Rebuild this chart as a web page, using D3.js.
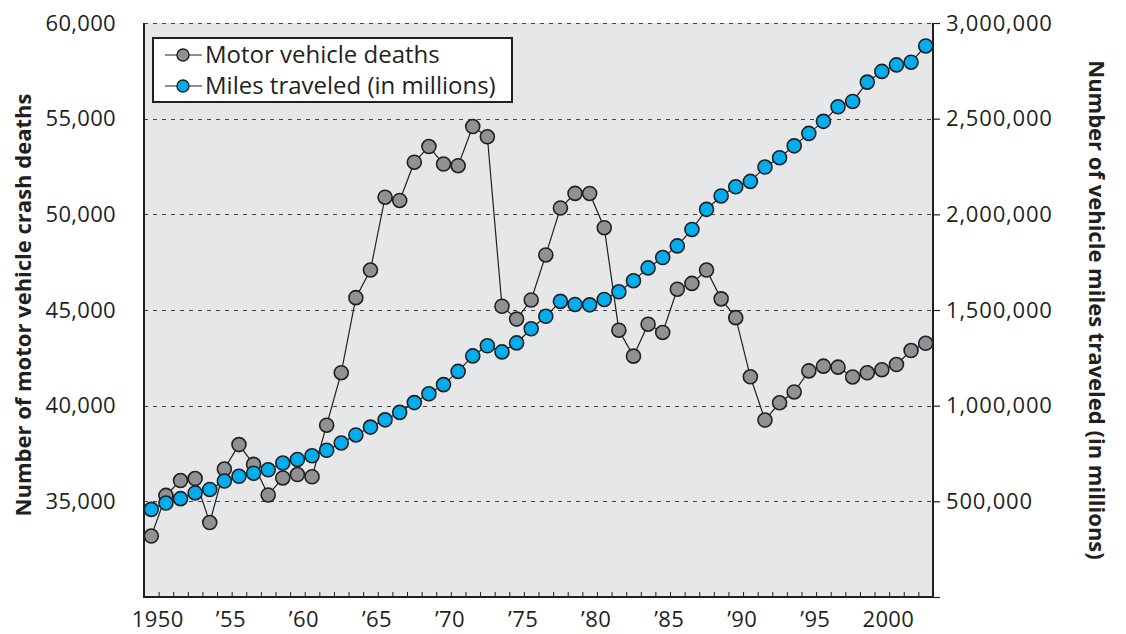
<!DOCTYPE html>
<meta charset="utf-8">
<style>
  body { margin: 0; background: #fff; }
  svg text { font-family: "Open Sans", "Noto Sans", sans-serif; fill: #231f20; }
</style>
<body>
<div id="chart"></div>
<script src="https://d3js.org/d3.v7.min.js"></script>
<script>
  // years 1950..2003
  var years = d3.range(1950, 2004);
  var deaths = [33186, 35309, 36088, 36190, 33890, 36688, 37965, 36932, 35331, 36223,
                36399, 36285, 38980, 41723, 45645, 47089, 50894, 50724, 52725, 53543,
                52627, 52542, 54589, 54052, 45196, 44525, 45523, 47878, 50331, 51093,
                51091, 49301, 43945, 42589, 44257, 43825, 46087, 46390, 47087, 45582,
                44599, 41508, 39250, 40150, 40716, 41817, 42065, 42013, 41501, 41717,
                41880, 42150, 42880, 43260];
  var miles = [458000, 491000, 514000, 544000, 562000, 606000, 631000, 647000, 665000, 700000,
               719000, 738000, 767000, 805000, 847000, 888000, 926000, 965000, 1016000, 1062000,
               1110000, 1179000, 1260000, 1313000, 1281000, 1328000, 1402000, 1467000, 1545000, 1529000,
               1527000, 1555000, 1595000, 1653000, 1720000, 1774000, 1835000, 1921000, 2026000, 2096000,
               2144000, 2172000, 2247000, 2296000, 2358000, 2423000, 2486000, 2562000, 2590000, 2691000,
               2747000, 2781000, 2795000, 2880000];
  var leftTicks = [35000, 40000, 45000, 50000, 55000, 60000];
  var rightTicks = [0, 500000, 1000000, 1500000, 2000000, 2500000, 3000000];
  var yearLabels = [1950, 1955, 1960, 1965, 1970, 1975, 1980, 1985, 1990, 1995, 2000];
  var seriesNames = ["Motor vehicle deaths", "Miles traveled (in millions)"];

  var W = 1126, H = 634;
  var plotL = 144, plotR = 933, plotT = 23, plotB = 597;
  var ink = "#231f20";
  var grayFill = "#8f9194", blueFill = "#00aeef";

  var svg = d3.select("#chart").append("svg")
    .attr("width", W).attr("height", H);

  var x = d3.scaleLinear().domain([1949.5, 2003.5]).range([plotL, plotR]);
  var yL = d3.scaleLinear().domain([30000, 60000]).range([plotB, plotT]);
  var yR = d3.scaleLinear().domain([0, 3000000]).range([plotB, plotT]);

  // plot background
  svg.append("rect")
    .attr("x", plotL).attr("y", plotT)
    .attr("width", plotR - plotL).attr("height", plotB - plotT)
    .attr("fill", "#e6e7e8");

  // dashed grid
  svg.append("g").selectAll("line")
    .data(leftTicks).enter().append("line")
    .attr("x1", plotL).attr("x2", plotR)
    .attr("y1", d => Math.round(yL(d)) + 0.5).attr("y2", d => Math.round(yL(d)) + 0.5)
    .attr("stroke", "#444").attr("stroke-width", 1.2)
    .attr("stroke-dasharray", "4,5");

  // left axis (labels only)
  var gL = svg.append("g").attr("transform", "translate(" + plotL + ",0)")
    .call(d3.axisLeft(yL).tickValues(leftTicks).tickSize(0).tickPadding(28)
      .tickFormat(d3.format(",")));
  gL.select(".domain").remove();
  gL.selectAll("text").style("font-size", "22px").style("letter-spacing", "0.3px").attr("fill", ink);
  svg.append("line").attr("x1", plotL).attr("x2", plotL).attr("y1", plotT).attr("y2", plotB + 1)
    .attr("stroke", ink).attr("stroke-width", 2);

  // right axis
  var gR = svg.append("g").attr("transform", "translate(" + plotR + ",0)")
    .call(d3.axisRight(yR).tickValues(rightTicks).tickSize(7).tickPadding(6)
      .tickFormat(d => d === 0 ? "" : d3.format(",")(d)));
  gR.select(".domain").remove();
  gR.selectAll("line").attr("stroke", ink).attr("stroke-width", 1.2);
  gR.selectAll("text").style("font-size", "22px").style("letter-spacing", "0.8px").attr("fill", ink);
  svg.append("line").attr("x1", plotR).attr("x2", plotR).attr("y1", plotT).attr("y2", plotB + 1)
    .attr("stroke", ink).attr("stroke-width", 2);

  // bottom axis: small inward ticks between years
  var gB = svg.append("g").attr("transform", "translate(0," + plotB + ")")
    .call(d3.axisBottom(x).tickValues(years.slice(0, -1).map(d => d + 0.5)).tickSize(-5).tickFormat(""));
  gB.select(".domain").remove();
  gB.selectAll("line").attr("stroke", ink).attr("stroke-width", 1);
  svg.append("line").attr("x1", plotL - 1).attr("x2", plotR + 1).attr("y1", plotB).attr("y2", plotB)
    .attr("stroke", ink).attr("stroke-width", 2);

  var gX = svg.append("g").attr("transform", "translate(0," + plotB + ")")
    .call(d3.axisBottom(x).tickValues(yearLabels).tickSize(0).tickPadding(14)
      .tickFormat(d => d % 100 === 50 || d === 2000 ? String(d) : "\u2019" + String(d).slice(2)));
  gX.select(".domain").remove();
  gX.selectAll("text").style("font-size", "22px").style("letter-spacing", "0.4px")
    .attr("fill", ink).attr("dx", 6);

  // axis titles
  svg.append("text")
    .attr("transform", "translate(31," + ((plotT + plotB) / 2 - 5) + ") rotate(-90)")
    .attr("text-anchor", "middle")
    .style("font-size", "22px").style("font-weight", "bold")
    .text("Number of motor vehicle crash deaths");
  svg.append("text")
    .attr("transform", "translate(1089," + ((plotT + plotB) / 2) + ") rotate(90)")
    .attr("text-anchor", "middle")
    .style("font-size", "22px").style("font-weight", "bold")
    .text("Number of vehicle miles traveled (in millions)");

  // series
  function drawSeries(values, yScale, fill) {
    var line = d3.line().x((d, i) => x(years[i])).y(d => yScale(d));
    svg.append("path").datum(values)
      .attr("d", line).attr("fill", "none")
      .attr("stroke", ink).attr("stroke-width", 1.2);
    svg.append("g").selectAll("circle")
      .data(values).enter().append("circle")
      .attr("cx", (d, i) => x(years[i])).attr("cy", d => yScale(d))
      .attr("r", 7).attr("fill", fill)
      .attr("stroke", ink).attr("stroke-width", 1.6);
  }
  drawSeries(deaths, yL, grayFill);
  drawSeries(miles, yR, blueFill);

  // legend
  var lg = svg.append("g");
  lg.append("rect").attr("x", 153).attr("y", 38).attr("width", 359).attr("height", 64)
    .attr("fill", "#fff").attr("stroke", ink).attr("stroke-width", 2);
  [grayFill, blueFill].forEach(function (c, i) {
    var cy = 55 + i * 31;
    lg.append("line").attr("x1", 165).attr("x2", 202).attr("y1", cy).attr("y2", cy)
      .attr("stroke", ink).attr("stroke-width", 1.2);
    lg.append("circle").attr("cx", 183).attr("cy", cy).attr("r", 6)
      .attr("fill", c).attr("stroke", ink).attr("stroke-width", 1.4);
    lg.append("text").attr("x", 205).attr("y", cy).attr("dy", "0.35em")
      .style("font-size", "24px").text(seriesNames[i]);
  });
</script>
</body>
